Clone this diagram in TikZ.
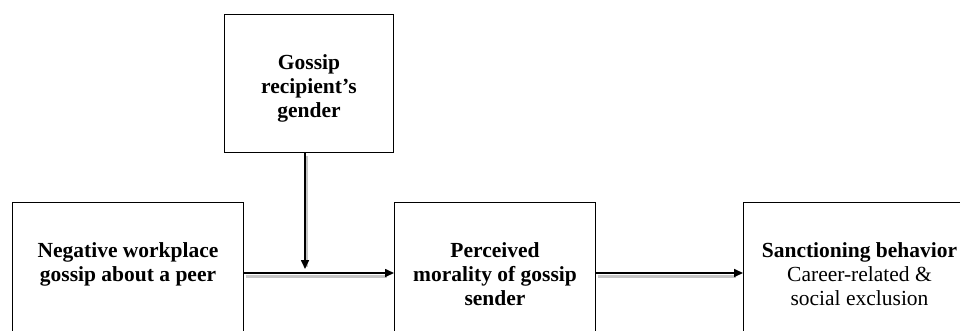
\documentclass[tikz,border=0pt]{standalone}
\usepackage{fontspec}
\setmainfont{Liberation Serif}
\usetikzlibrary{arrows.meta,positioning}

\tikzset{
box/.style={draw, line width=1pt, anchor=north west, inner sep=0pt},
caption/.style={anchor=north, align=center, inner sep=0pt, font=\fontsize{21.5}{24}\selectfont},
link/.style={line width=1.6pt, -{Triangle[length=9pt,width=8pt]},
  preaction={draw=gray!45, line width=3pt, -, shorten >=9pt, transform canvas={shift={(1.5pt,-3pt)}}}}
}

\begin{document}
\begin{tikzpicture}[x=1pt,y=-1pt]

\clip (0,0) rectangle (960,331);

% boxes
\node[box, minimum width=231pt, minimum height=200pt] (gossip) at (12,202) {};
\node[box, minimum width=201pt, minimum height=200pt] (morality) at (394,202) {};
\node[box, minimum width=232pt, minimum height=200pt] (sanction) at (743,202) {};
\node[box, minimum width=169pt, minimum height=138pt] (gender) at (224,14) {};

% texts
\node[caption, below=40pt of gossip.north] (gossiptxt) {\bfseries Negative workplace\\ \bfseries gossip about a peer};
\node[caption, below=40pt of morality.north] (moralitytxt) {\bfseries Perceived\\ \bfseries morality of gossip\\ \bfseries sender};
\node[caption, below=40pt of sanction.north] (sanctiontxt) {\bfseries Sanctioning behavior\\ Career-related \&\\ social exclusion};
\node[caption, below=40pt of gender.north] (gendertxt) {\bfseries Gossip\\ \bfseries recipient's\\ \bfseries gender};

% arrows
\coordinate (join) at (305,273);
\draw[link] (gossip.east |- join) -- (morality.west |- join);
\draw[link] (morality.east |- join) -- (sanction.west |- join);
\draw[link, shorten >=4pt] (gender.south -| join) -- (join);

\end{tikzpicture}
\end{document}
